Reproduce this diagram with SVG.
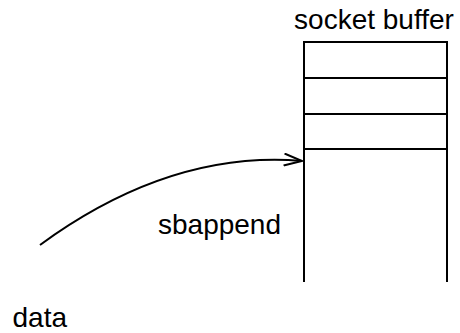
<svg xmlns="http://www.w3.org/2000/svg" width="460" height="333" viewBox="0 0 460 333">
<style>
text{font-family:"Liberation Sans",Arial,sans-serif;font-size:28px;fill:#000}
.ln{stroke:#000;stroke-width:2;fill:none}
</style>
<defs>
<marker id="arr" markerWidth="20" markerHeight="14" refX="19" refY="7" orient="auto" markerUnits="userSpaceOnUse">
<path d="M1,1 L19,7 L1,13" fill="none" stroke="#000" stroke-width="2"/>
</marker>
</defs>
<rect width="460" height="333" fill="#fff"/>
<g id="socket-buffer">
<text x="374" y="29" text-anchor="middle">socket buffer</text>
<path class="ln" d="M304,282 V42 H447 V282 M304,78 H447 M304,114 H447 M304,149 H447"/>
</g>
<g id="data">
<text x="12.5" y="327">data</text>
</g>
<g id="connectors">
<path class="ln" d="M40,245 Q170,150 302,161" marker-end="url(#arr)"/>
<text x="158" y="234">sbappend</text>
</g>
</svg>
